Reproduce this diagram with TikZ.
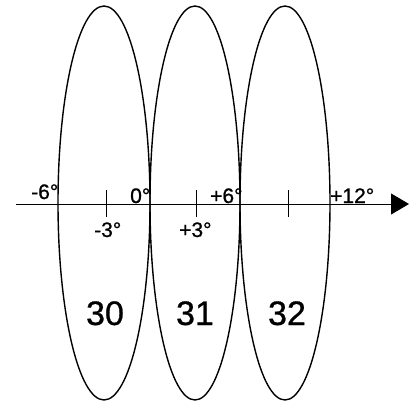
\documentclass[tikz,border=0pt]{standalone}
\usepackage{fontspec}
\setmainfont{Liberation Sans}
\newfontfamily\heavyfont[FakeBold=0.8]{Liberation Sans}
\usetikzlibrary{arrows.meta}
\begin{document}
\begin{tikzpicture}[x=1pt,y=-1pt,
  lobe/.style={line width=1.4pt},
  lbl/.style={font=\heavyfont\fontsize{21}{23}\selectfont, inner sep=0pt, anchor=base west},
  num/.style={font=\heavyfont\fontsize{34}{40}\selectfont, inner sep=0pt, anchor=base},
  tick/.style={line width=1pt}]
\useasboundingbox (0,0) rectangle (415,401);
% lobes
\draw[lobe] (104,203) ellipse [x radius=46, y radius=197];
\draw[lobe] (195,203) ellipse [x radius=45, y radius=197];
\draw[lobe] (285,203) ellipse [x radius=45, y radius=197];
% axis
\coordinate (a0) at (16,204);
\coordinate (a1) at (409,204);
\draw[line width=1pt, -{Triangle[length=18pt,width=21pt]}] (a0) -- (a1);
% ticks
\coordinate (t1a) at (106,190); \coordinate (t1b) at (106,217);
\coordinate (t2a) at (196,190); \coordinate (t2b) at (196,217);
\coordinate (t3a) at (288,190); \coordinate (t3b) at (288,217);
\draw[tick] (t1a) -- (t1b);
\draw[tick] (t2a) -- (t2b);
\draw[tick] (t3a) -- (t3b);
% labels
\node[lbl] (m6) at (31,199) {-6°};
\node[lbl] (z0) at (130,203) {0°};
\node[lbl] (m3) at (94,237) {-3°};
\node[lbl] (p3) at (179,237) {+3°};
\node[lbl] (p6) at (210,203) {+6°};
\node[lbl] (p12) at (330,203) {+12°};
% numbers
\node[num] (n30) at (105,325) {30};
\node[num] (n31) at (195,325) {31};
\node[num] (n32) at (287,325) {32};
\end{tikzpicture}
\end{document}
